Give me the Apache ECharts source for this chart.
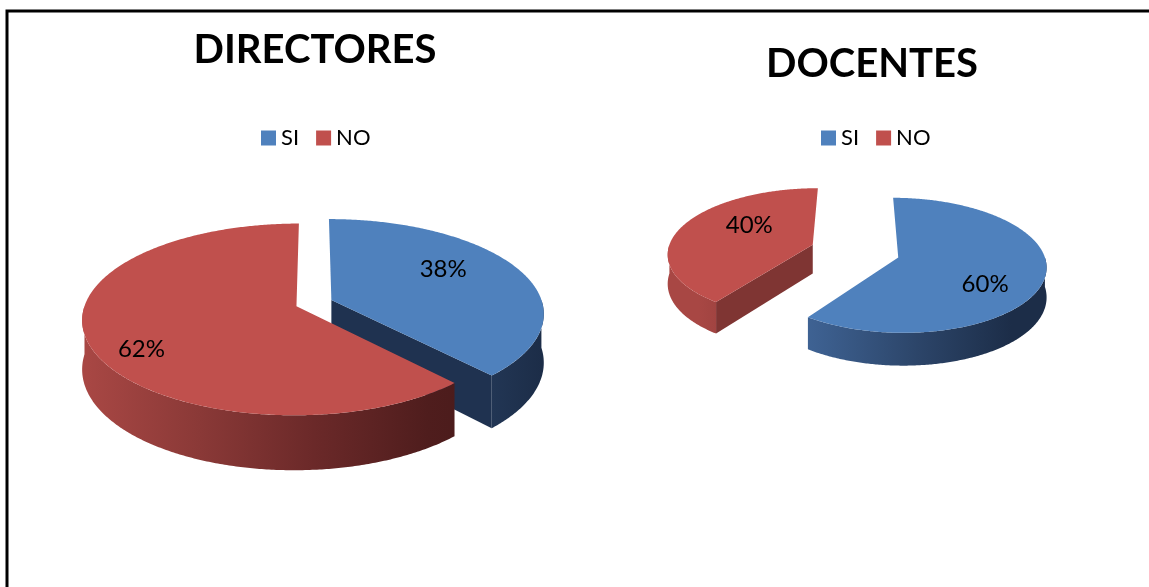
<!DOCTYPE html>
<html>
<head>
<meta charset="utf-8">
<script src="https://cdn.jsdelivr.net/npm/echarts@6/dist/echarts.min.js"></script>
<style>
  html, body { margin: 0; padding: 0; background: #fff; }
  #main { width: 1149px; height: 587px; }
</style>
</head>
<body>
<div id="main"></div>
<script>
var categories = ['SI', 'NO'];
var chartTitles = ['DIRECTORES', 'DOCENTES'];
var directores = [38, 62];
var docentes = [60, 40];
var valuesByChart = [directores, docentes];

var topColors = ['#4F81BD', '#C0504D'];
var faceColors = ['#1F3250', '#7F3533'];
var wallStops = [
  [[0, '#4F7DB5'], [0.38, '#3D6090'], [0.7, '#2C4569'], [1, '#1C2D48']],
  [[0, '#A84744'], [0.25, '#8A3937'], [0.5, '#6B2929'], [0.75, '#4F1D1D'], [1, '#431818']]
];

// 3d pie layout per chart, in px
var layouts = [
  { cx: 314, cy: 303, rx: 211, ry: 95, depth: 48, persp: 0.14, explode: 0.089, labelR: [0.57, 0.79], labelK: 1.55 },
  { cx: 855, cy: 251, rx: 145, ry: 66, depth: 29, persp: 0.12, explode: 0.31, labelR: [0.63, 0.46], labelK: 2.1 }
];

function startOf(arr, i) {
  var total = arr.reduce(function (a, b) { return a + b; }, 0);
  var s = 0;
  for (var j = 0; j < i; j++) s += arr[j];
  return s / total;
}

function renderSlice(params, api) {
  var c = api.value(0);
  var arr = valuesByChart[c];
  var total = arr.reduce(function (a, b) { return a + b; }, 0);
  var frac = api.value(1) / total;
  var start = api.value(2);
  var k = params.seriesIndex;
  var L = layouts[c];
  var a0 = start * Math.PI * 2;
  var a1 = (start + frac) * Math.PI * 2;
  var mid = (a0 + a1) / 2;
  var ex = L.explode * Math.sin(mid), ez = L.explode * Math.cos(mid);

  function pt(t, r, h) {
    var X = r * Math.sin(t) + ex, Z = r * Math.cos(t) + ez;
    var s = 1 - L.persp * Z;
    return [L.cx + L.rx * X * s, L.cy - L.ry * Z * s + L.depth * h * s];
  }
  function arc(t0, t1, h) {
    var n = Math.max(2, Math.ceil(Math.abs(t1 - t0) / 0.01));
    var out = [];
    for (var j = 0; j <= n; j++) out.push(pt(t0 + (t1 - t0) * j / n, 1, h));
    return out;
  }

  var children = [];
  var sideZ = 10 + Math.round((1 - ez) * 20);

  // radial faces that look towards the viewer
  if (Math.sin(a0) < -1e-6) {
    children.push({ type: 'polygon', z2: sideZ,
      shape: { points: [pt(a0, 0, 0), pt(a0, 1, 0), pt(a0, 1, 1), pt(a0, 0, 1)] },
      style: { fill: faceColors[k] } });
  }
  if (Math.sin(a1) > 1e-6) {
    children.push({ type: 'polygon', z2: sideZ,
      shape: { points: [pt(a1, 0, 0), pt(a1, 1, 0), pt(a1, 1, 1), pt(a1, 0, 1)] },
      style: { fill: faceColors[k] } });
  }

  // outer wall, front half only
  var w0 = Math.max(a0, Math.PI / 2), w1 = Math.min(a1, Math.PI * 1.5);
  if (w1 > w0) {
    var pts = arc(w0, w1, 0).concat(arc(w1, w0, 1));
    var grad = new echarts.graphic.LinearGradient(L.cx - L.rx * 1.08, 0, L.cx + L.rx * 1.08, 0,
      wallStops[k].map(function (s) { return { offset: s[0], color: s[1] }; }), true);
    children.push({ type: 'polygon', z2: sideZ + 1, shape: { points: pts }, style: { fill: grad } });
  }

  // top
  children.push({ type: 'polygon', z2: 100,
    shape: { points: [pt(0, 0, 0)].concat(arc(a0, a1, 0)) },
    style: { fill: topColors[k] } });

  // label
  var ctr = pt(0, 0, 0);
  var f = L.labelR[k];
  children.push({ type: 'text', z2: 200,
    style: {
      text: Math.round(frac * 100) + '%',
      x: ctr[0] + f * L.rx * Math.sin(mid),
      y: ctr[1] - f * L.ry * L.labelK * Math.cos(mid),
      align: 'center', verticalAlign: 'middle',
      fontFamily: 'Lato', fontSize: 24, fill: '#000'
    } });

  return { type: 'group', children: children };
}

var chart = echarts.init(document.getElementById('main'), null, { renderer: 'canvas' });

var series = categories.map(function (name, i) {
  return {
    name: name,
    type: 'custom',
    coordinateSystem: 'none',
    itemStyle: { color: topColors[i] },
    renderItem: renderSlice,
    data: valuesByChart.map(function (arr, c) { return [c, arr[i], startOf(arr, i)]; })
  };
});

var legendBase = {
  data: categories,
  icon: 'rect',
  itemWidth: 15,
  itemHeight: 15,
  itemGap: 17,
  selectedMode: false,
  textStyle: { fontFamily: 'Lato', fontSize: 22, color: '#000' }
};

var option = {
  animation: false,
  title: [
    { text: chartTitles[0], left: 310, top: 25, textAlign: 'center',
      textStyle: { fontFamily: 'Lato', fontWeight: 'bold', fontSize: 40, color: '#000' } },
    { text: chartTitles[1], left: 867, top: 39, textAlign: 'center',
      textStyle: { fontFamily: 'Lato', fontWeight: 'bold', fontSize: 40, color: '#000' } }
  ],
  legend: [
    Object.assign({ left: 256, top: 122 }, legendBase),
    Object.assign({ left: 816, top: 122 }, legendBase)
  ],
  graphic: [{
    type: 'polyline',
    shape: { points: [[7, 587], [7, 11], [1149, 11]] },
    style: { stroke: '#000', lineWidth: 3, fill: null }
  }],
  series: series
};

chart.setOption(option);
</script>
</body>
</html>
